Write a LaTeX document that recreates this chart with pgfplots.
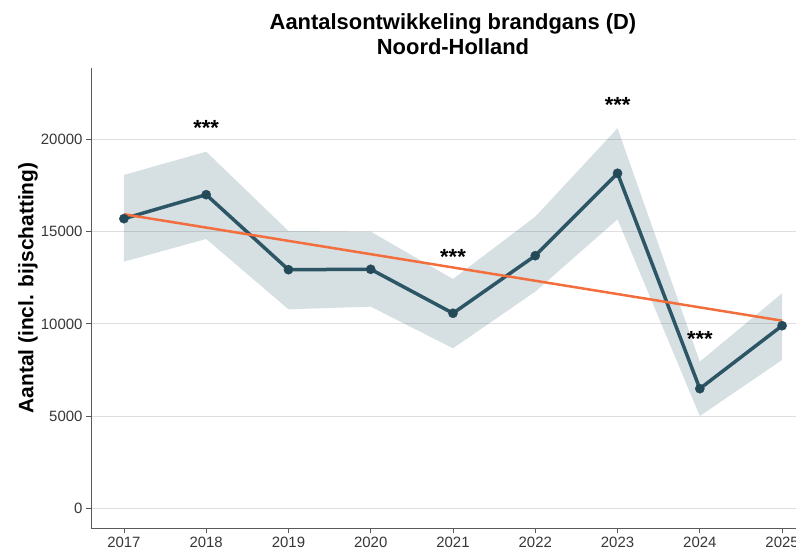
\documentclass[border=0pt]{standalone}
\usepackage{fontspec}
\setmainfont{Liberation Sans}
\usepackage{pgfplots}
\pgfplotsset{compat=1.18}
\usepackage{pgfplotstable}
\usepgfplotslibrary{fillbetween}
\definecolor{lineteal}{RGB}{44,86,101}
\definecolor{markteal}{RGB}{36,74,90}
\definecolor{bandc}{RGB}{52,96,112}
\definecolor{trendor}{RGB}{242,110,60}
\definecolor{ticktext}{RGB}{55,55,55}

\pgfplotstableread{
year val lo hi
2017 15705 13373 18075
2018 17006 14604 19338
2019 12939 10792 15038
2020 12961 10933 15000
2021 10575 8677 12435
2022 13698 11750 15813
2023 18167 15672 20607
2024 6486 5005 7950
2025 9902 8042 11659
}\datatab

\pgfplotstableread{
year trend
2017 15944
2025 10174
}\trendtab

\begin{document}
\begin{tikzpicture}
\begin{axis}[
  at={(91bp,23.7bp)}, anchor=south west,
  scale only axis, width=724bp, height=460bp,
  xmin=2016.6, xmax=2025.4, ymin=-1085, ymax=23860,
  axis x line*=bottom, axis y line*=left,
  axis line style={-, draw=black!65, line width=1bp},
  xtick={2017,2018,...,2025}, ytick={0,5000,10000,15000,20000},
  scaled ticks=false,
  tick align=outside, major tick length=5bp,
  tick style={draw=black!65, line width=0.8bp},
  ymajorgrids, grid style={draw=black!13, line width=0.8bp},
  /pgf/number format/assume math mode=true,
  /pgf/number format/1000 sep={},
  ticklabel style={font=\fontsize{15}{15}\selectfont, text=ticktext},
]
\addplot[name path=hi, draw=none, forget plot] table[x=year, y=hi] {\datatab};
\addplot[name path=lo, draw=none, forget plot] table[x=year, y=lo] {\datatab};
\addplot[fill=bandc, fill opacity=0.2, draw=none] fill between[of=hi and lo];
\addplot[lineteal, line width=3.5bp, no markers] table[x=year, y=val] {\datatab};
\addplot[trendor, line width=2.5bp, no markers] table[x=year, y=trend] {\trendtab};
\addplot[only marks, mark=*, mark size=4.6bp, markteal, mark options={fill=markteal, draw=markteal}] table[x=year, y=val] {\datatab};
\node[anchor=base, font=\bfseries\fontsize{22}{22}\selectfont] at (axis cs:2018,20190) {***};
\node[anchor=base, font=\bfseries\fontsize{22}{22}\selectfont] at (axis cs:2021,13226) {***};
\node[anchor=base, font=\bfseries\fontsize{22}{22}\selectfont] at (axis cs:2023,21448) {***};
\node[anchor=base, font=\bfseries\fontsize{22}{22}\selectfont] at (axis cs:2024,8747) {***};
\end{axis}
\pgfresetboundingbox
\path (0,0) rectangle (796bp,552bp);
\node[anchor=base, font=\bfseries\fontsize{22}{24}\selectfont] at (453bp,522bp) {Aantalsontwikkeling brandgans (D)};
\node[anchor=base, font=\bfseries\fontsize{22}{24}\selectfont] at (453bp,497bp) {Noord-Holland};
\node[rotate=90, font=\bfseries\fontsize{21}{24}\selectfont] at (28bp,264bp) {Aantal (incl. bijschatting)};
\end{tikzpicture}
\end{document}
